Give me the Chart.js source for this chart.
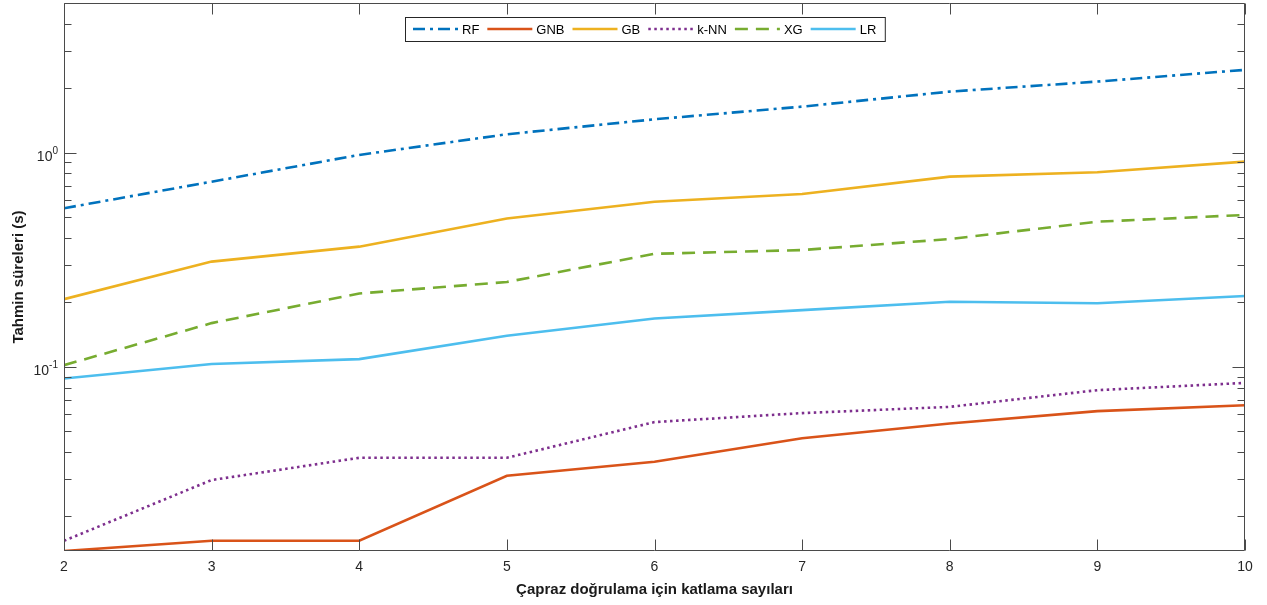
<!DOCTYPE html>
<html><head><meta charset="utf-8">
<script src="https://cdn.jsdelivr.net/npm/chart.js@4/dist/chart.umd.min.js"></script>
<style>html,body{margin:0;padding:0;background:#fff;overflow:hidden}</style>
</head><body>
<canvas id="c" width="1267" height="605"></canvas>
<script>
const folds = [2, 3, 4, 5, 6, 7, 8, 9, 10];
const seriesNames = ['RF', 'GNB', 'GB', 'k-NN', 'XG', 'LR'];
const rfValues   = [0.550, 0.732, 0.976, 1.219, 1.432, 1.641, 1.928, 2.148, 2.437];
const gnbValues  = [0.0138, 0.0154, 0.0154, 0.0310, 0.0360, 0.0464, 0.0544, 0.0621, 0.0662];
const gbValues   = [0.207, 0.310, 0.364, 0.493, 0.590, 0.641, 0.773, 0.810, 0.908];
const knnValues  = [0.0154, 0.0296, 0.0376, 0.0376, 0.0552, 0.0608, 0.0650, 0.0778, 0.0841];
const xgValues   = [0.1018, 0.160, 0.220, 0.249, 0.337, 0.351, 0.395, 0.476, 0.512];
const lrValues   = [0.0882, 0.103, 0.1086, 0.1396, 0.168, 0.184, 0.2014, 0.198, 0.214];
const yLabelTicks = [0.1, 1];
const yLabelBase = ['10', '10'];
const yLabelExp = ['-1', '0'];
const xTickValues = [2, 3, 4, 5, 6, 7, 8, 9, 10];
const yMin = 0.0138, yMax = 5;
const xTitle = 'Çapraz doğrulama için katlama sayıları';
const yTitle = 'Tahmin süreleri (s)';

const FONT = "'Liberation Sans', Arial, sans-serif";
const AXIS = '#4a4a4a';
const styles = [
  {color: '#0072BD', dash: [12, 5, 3, 5]},
  {color: '#D95319', dash: []},
  {color: '#EDB120', dash: []},
  {color: '#7E2F8E', dash: [2.5, 3.5]},
  {color: '#77AC30', dash: [13, 8]},
  {color: '#4DBEEE', dash: []}
];
const allValues = [rfValues, gnbValues, gbValues, knnValues, xgValues, lrValues];

const datasets = allValues.map((vals, i) => ({
  label: seriesNames[i],
  data: folds.map((f, j) => ({x: f, y: vals[j]})),
  borderColor: styles[i].color,
  backgroundColor: styles[i].color,
  borderDash: styles[i].dash,
  borderWidth: 2.6,
  pointRadius: 0,
  tension: 0,
  fill: false
}));

const minorTicks = [];
[0.01, 0.1, 1].forEach(d => { for (let k = 1; k <= 9; k++) { const v = +(k * d).toPrecision(3); if (v >= yMin && v <= yMax) minorTicks.push(v); } });

const axisPlugin = {
  id: 'matlabAxes',
  afterDatasetsDraw(chart) {
    const {ctx, chartArea: a, scales: {x, y}} = chart;
    ctx.save();
    ctx.strokeStyle = AXIS;
    ctx.lineWidth = 1;
    const L = Math.round(a.left) + 0.5, R = Math.round(a.right) - 0.5;
    const T = Math.round(a.top) + 0.5, B = Math.round(a.bottom) - 0.5;
    ctx.beginPath();
    ctx.rect(L, T, R - L, B - T);
    ctx.stroke();
    ctx.beginPath();
    xTickValues.forEach(v => {
      const px = Math.round(x.getPixelForValue(v)) + 0.5;
      ctx.moveTo(px, B); ctx.lineTo(px, B - 11);
      ctx.moveTo(px, T); ctx.lineTo(px, T + 11);
    });
    minorTicks.forEach(v => {
      const py = Math.round(y.getPixelForValue(v)) + 0.5;
      const len = yLabelTicks.some(t => Math.abs(t - v) < 1e-9) ? 12 : 7;
      ctx.moveTo(L, py); ctx.lineTo(L + len, py);
      ctx.moveTo(R, py); ctx.lineTo(R - len, py);
    });
    ctx.stroke();

    // y tick labels with superscript exponents
    ctx.fillStyle = '#262626';
    ctx.textBaseline = 'alphabetic';
    yLabelTicks.forEach((v, i) => {
      const py = y.getPixelForValue(v);
      ctx.font = '10px ' + FONT;
      const ew = ctx.measureText(yLabelExp[i]).width;
      const expX = 58 - ew;
      ctx.textAlign = 'left';
      ctx.fillText(yLabelExp[i], expX, py + 1);
      ctx.font = '14px ' + FONT;
      ctx.textAlign = 'right';
      ctx.fillText(yLabelBase[i], expX, py + 8.5);
    });

    const lx0 = 413, ly = 29;
    ctx.font = '13px ' + FONT;
    ctx.textAlign = 'left';
    ctx.textBaseline = 'middle';
    let cx = lx0;
    chart.data.datasets.forEach(d => {
      ctx.strokeStyle = d.borderColor;
      ctx.lineWidth = d.borderWidth;
      ctx.setLineDash(d.borderDash);
      ctx.beginPath(); ctx.moveTo(cx, ly); ctx.lineTo(cx + 45, ly); ctx.stroke();
      ctx.setLineDash([]);
      ctx.fillStyle = '#000';
      ctx.fillText(d.label, cx + 49, ly + 1);
      cx = cx + 49 + ctx.measureText(d.label).width + 8;
    });
    ctx.strokeStyle = '#262626';
    ctx.lineWidth = 1;
    ctx.strokeRect(405.5, 17.5, (cx + 1) - 405.5, 24);
    ctx.restore();
  }
};

new Chart(document.getElementById('c'), {
  type: 'line',
  data: {datasets},
  plugins: [axisPlugin],
  options: {
    responsive: false,
    animation: false,
    layout: {padding: {left: 0, right: 22, top: 3, bottom: 0}},
    plugins: {legend: {display: false}, tooltip: {enabled: false}},
    scales: {
      x: {
        type: 'linear', min: 2, max: 10,
        afterFit(s) { s.height = 54; s.paddingLeft = 0; s.paddingRight = 0; },
        afterBuildTicks(s) { s.ticks = xTickValues.map(v => ({value: v})); },
        grid: {display: false, drawTicks: false},
        border: {display: false},
        ticks: {padding: 8, color: '#262626', font: {family: FONT, size: 14}, autoSkip: false, maxRotation: 0},
        title: {display: true, text: xTitle, color: '#1a1a1a', font: {family: FONT, size: 15, weight: 'bold'}, padding: {top: 0, bottom: 6}}
      },
      y: {
        type: 'logarithmic', min: yMin, max: yMax,
        afterFit(s) { s.width = 64; s.paddingTop = 0; s.paddingBottom = 0; },
        afterBuildTicks(s) { s.ticks = yLabelTicks.map(v => ({value: v})); },
        grid: {display: false, drawTicks: false},
        border: {display: false},
        ticks: {display: false},
        title: {display: true, text: yTitle, color: '#1a1a1a', font: {family: FONT, size: 15, weight: 'bold'}, padding: {top: 10, bottom: 0}}
      }
    }
  }
});
</script>
</body></html>
